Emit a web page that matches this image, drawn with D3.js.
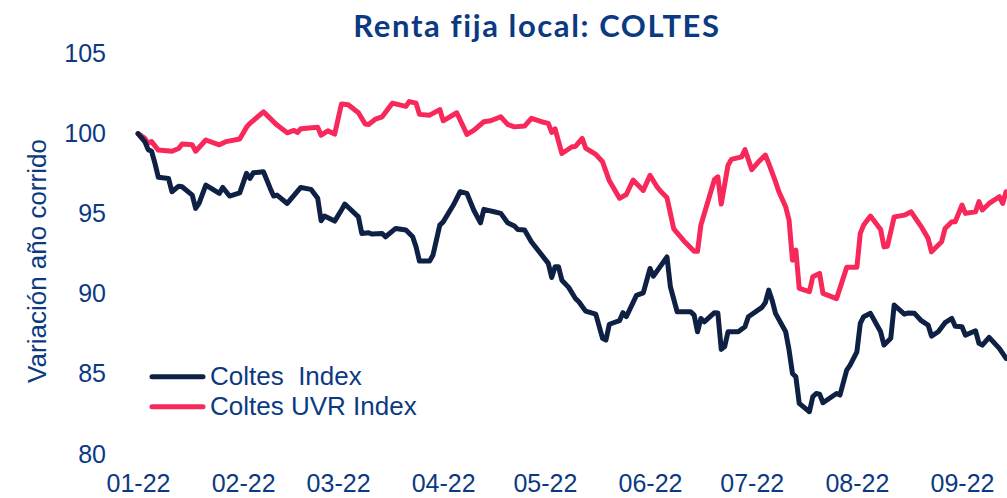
<!DOCTYPE html>
<html>
<head>
<meta charset="utf-8">
<script src="https://cdn.jsdelivr.net/npm/d3@7"></script>
<style>
  html, body { margin: 0; padding: 0; background: #fff; }
  svg { display: block; }
</style>
</head>
<body>
<svg id="chart" width="1007" height="498"></svg>
<script>
const chartTitle = "Renta fija local: COLTES";
const yAxisTitle = "Variación año corrido";
const seriesNames = ["Coltes  Index", "Coltes UVR Index"];
const yTicks = [80, 85, 90, 95, 100, 105];
const xTickDates = ["2022-01-01","2022-02-01","2022-03-01","2022-04-01","2022-05-01","2022-06-01","2022-07-01","2022-08-01","2022-09-01"];

const coltesDates = ["01-01","01-03","01-04","01-05","01-06","01-07","01-10","01-11","01-13","01-14","01-17","01-18","01-19","01-21","01-25","01-26","01-28","01-31",
"02-02","02-03","02-04","02-07","02-09","02-10","02-11","02-14","02-18","02-21","02-23","02-24","02-25","02-28",
"03-02","03-03","03-04","03-07","03-08","03-10","03-11","03-14","03-15","03-18","03-21","03-23","03-24","03-25","03-28","03-29","03-31",
"04-01","04-04","04-06","04-08","04-10","04-12","04-13","04-16","04-18","04-20","04-22","04-23","04-25","04-27",
"05-02","05-03","05-04","05-05","05-06","05-08","05-10","05-11","05-13","05-16","05-18","05-19","05-20","05-23","05-24","05-25","05-28","05-30",
"06-01","06-02","06-06","06-07","06-09","06-13","06-14","06-15","06-16","06-17","06-20","06-21","06-22","06-23","06-24","06-27","06-29","06-30",
"07-04","07-05","07-06","07-07","07-08","07-11","07-12","07-13","07-14","07-15","07-18","07-19","07-20","07-21","07-22","07-26","07-27","07-29","07-30",
"08-01","08-02","08-03","08-05","08-08","08-09","08-11","08-12","08-15","08-16","08-18","08-20","08-22","08-23","08-25","08-27","08-29","08-30",
"09-01","09-02","09-05","09-06","09-07","09-09","09-12","09-14"];
const coltesValues = [100,99.5,99.0,98.9,98.14,97.27,97.2,96.37,96.72,96.68,96.16,95.33,95.64,96.79,96.27,96.64,96.1,96.3,
97.52,97.2,97.55,97.62,96.58,96.1,96.16,95.64,96.64,96.52,95.96,94.56,94.85,94.54,
95.23,95.6,95.4,94.8,93.77,93.81,93.73,93.77,93.56,94.08,93.98,93.56,92.93,92.04,92.04,92.42,94.29,
94.49,95.54,96.37,96.27,95.23,94.43,95.27,95.12,95.02,94.43,94.23,94.02,93.98,93.25,
91.9,91.02,91.69,91.69,90.85,90.4,89.71,89.5,88.92,88.73,87.22,87.11,88.1,88.32,88.82,88.57,89.9,90.06,
91.58,91.1,92.3,90.44,88.88,88.88,88.67,87.63,88.46,88.25,88.82,88.8,86.53,86.7,87.63,87.63,87.94,88.57,
89.15,89.45,90.23,89.6,88.78,87.63,86.49,85.03,84.82,83.16,82.64,83.57,83.78,83.74,83.2,83.78,83.68,85.24,85.55,
86.38,88.15,88.57,88.78,87.63,86.8,87.22,89.3,88.73,88.8,88.78,88.32,88.05,87.36,87.63,88.2,88.46,87.98,
87.94,87.42,87.69,86.91,86.8,87.28,86.59,85.97];

const uvrDates = ["01-01","01-03","01-04","01-05","01-07","01-11","01-13","01-14","01-17","01-18","01-21","01-25","01-27","01-31",
"02-02","02-03","02-07","02-11","02-14","02-16","02-17","02-18","02-23","02-24","02-26","02-28",
"03-02","03-04","03-07","03-09","03-10","03-12","03-14","03-17","03-21","03-22","03-24","03-25","03-28","03-31",
"04-01","04-05","04-08","04-10","04-13","04-15","04-18","04-20","04-22","04-25","04-27","04-30",
"05-02","05-03","05-04","05-06","05-09","05-10","05-12","05-13","05-16","05-18","05-20","05-23","05-25","05-27","05-30",
"06-01","06-03","06-04","06-06","06-08","06-11","06-14","06-15","06-16","06-20","06-21","06-22","06-24","06-25","06-28","06-29",
"07-01","07-03","07-05","07-06","07-08","07-09","07-11","07-12","07-13","07-14","07-15","07-18","07-19","07-21","07-22","07-26","07-29",
"08-01","08-02","08-03","08-05","08-08","08-09","08-10","08-12","08-15","08-17","08-20","08-22","08-23","08-26","08-27","08-29","08-30",
"09-01","09-02","09-05","09-06","09-07","09-09","09-12","09-13","09-14"];
const uvrValues = [100,99.7,99.4,99.5,98.97,98.9,99.07,99.35,99.3,98.9,99.6,99.3,99.5,99.66,
100.4,100.64,101.36,100.53,100.05,100.2,100.07,100.3,100.39,99.9,100.17,99.97,
101.85,101.8,101.3,100.6,100.57,100.9,101.05,101.9,101.7,102.0,101.9,101.2,101.15,101.5,
100.8,101.3,99.95,100.2,100.74,100.8,101.05,100.57,100.42,100.47,100.95,100.74,
100.64,100.07,100.3,98.76,99.18,99.2,99.7,99.1,98.7,98.24,97.05,95.96,96.2,97.1,96.45,
97.4,96.7,96.43,96.0,94.05,93.3,92.65,92.65,94.29,97.14,97.3,95.6,98.03,98.39,98.55,99.0,
97.75,98.24,98.66,98.14,97.0,96.37,95.43,94.6,92.1,92.73,90.34,90.13,91.06,91.27,90.03,89.7,91.65,
91.65,93.77,94.29,94.85,94.02,92.93,92.97,94.8,94.91,95.12,94.18,93.46,92.62,93.25,94.08,94.5,94.5,
95.54,95.02,95.12,95.75,95.23,95.64,96.06,95.64,96.37];

const year = "2022-";
const parse = d3.timeParse("%Y-%m-%d");
const build = (dates, vals) => dates.map((d, i) => ({ date: parse(year + d), value: vals[i] }));
const seriesData = [build(coltesDates, coltesValues), build(uvrDates, uvrValues)];
const colors = ["#0e2043", "#f8285a"];
const textBlue = "#0b3a82";

const svg = d3.select("#chart");

const x = d3.scaleTime()
  .domain([parse(xTickDates[0]), parse(xTickDates[xTickDates.length - 1])])
  .range([138, 962]);
const y = d3.scaleLinear().domain([80, 105]).range([454, 53.5]);

// Title
svg.append("text")
  .attr("x", 537).attr("y", 37)
  .attr("text-anchor", "middle")
  .attr("font-family", "Lato, 'Open Sans', sans-serif")
  .attr("font-weight", "bold")
  .attr("font-size", 31)
  .attr("letter-spacing", 1.6)
  .attr("fill", textBlue)
  .text(chartTitle);

// Y axis title
svg.append("text")
  .attr("transform", "translate(46,261) rotate(-90)")
  .attr("text-anchor", "middle")
  .attr("font-family", "'Liberation Sans', Arial, sans-serif")
  .attr("font-size", 26)
  .attr("fill", textBlue)
  .text(yAxisTitle);

// Y axis
const yAxis = svg.append("g")
  .attr("transform", "translate(106,0)")
  .call(d3.axisLeft(y).tickValues(yTicks).tickSize(0).tickPadding(0).tickFormat(d3.format("d")));
yAxis.select(".domain").remove();
yAxis.selectAll("text")
  .attr("font-family", "'Liberation Sans', Arial, sans-serif")
  .attr("font-size", 25)
  .attr("fill", textBlue);

// X axis
const xAxis = svg.append("g")
  .attr("transform", "translate(0,468)")
  .call(d3.axisBottom(x).tickValues(xTickDates.map(parse)).tickSize(0).tickPadding(6).tickFormat(d3.timeFormat("%m-%y")));
xAxis.select(".domain").remove();
xAxis.selectAll("text")
  .attr("font-family", "'Liberation Sans', Arial, sans-serif")
  .attr("font-size", 25)
  .attr("fill", textBlue);

// Lines
const line = d3.line().x(d => x(d.date)).y(d => y(d.value));
[1, 0].forEach(i => {
  svg.append("path")
    .datum(seriesData[i])
    .attr("d", line)
    .attr("fill", "none")
    .attr("stroke", colors[i])
    .attr("stroke-width", 5)
    .attr("stroke-linejoin", "round")
    .attr("stroke-linecap", "round");
});

// Legend
const legendY = [376.7, 406.7];
seriesNames.forEach((name, i) => {
  const g = svg.append("g");
  g.append("line")
    .attr("x1", 152).attr("x2", 203)
    .attr("y1", legendY[i]).attr("y2", legendY[i])
    .attr("stroke", colors[i])
    .attr("stroke-width", 5)
    .attr("stroke-linecap", "round");
  g.append("text")
    .attr("x", 210).attr("y", legendY[i] + 8.5)
    .attr("font-family", "'Liberation Sans', Arial, sans-serif")
    .attr("font-size", 26)
    .attr("fill", textBlue)
    .attr("xml:space", "preserve")
    .style("white-space", "pre")
    .text(name);
});
</script>
</body>
</html>
